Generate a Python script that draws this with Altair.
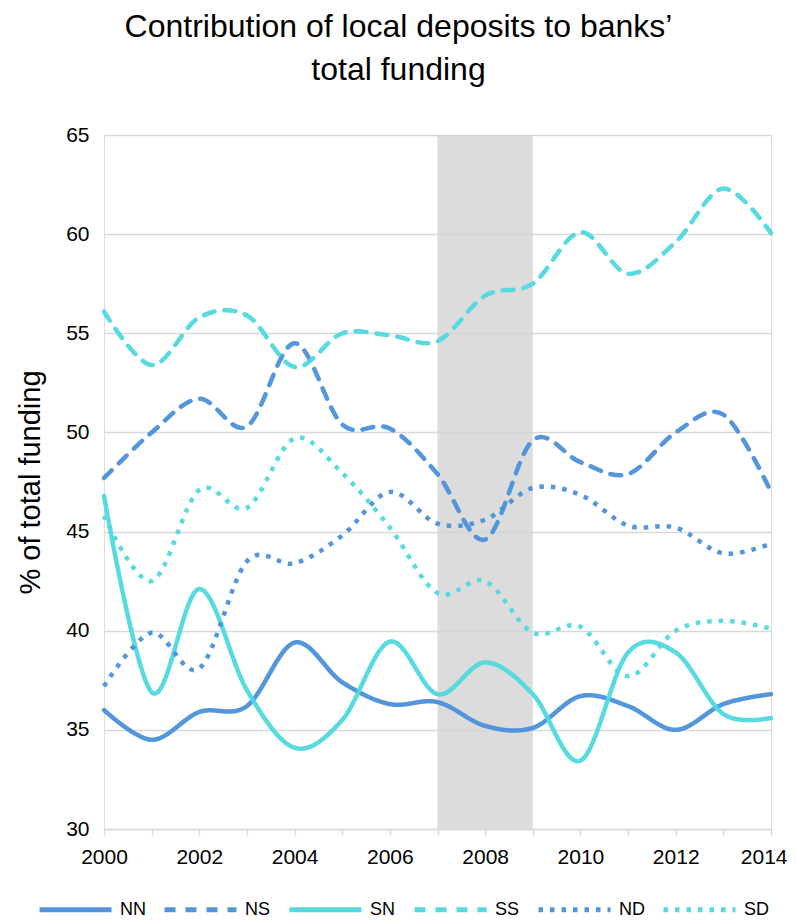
import altair as alt
import pandas as pd

years = list(range(2000, 2015))
NN = [36.0, 34.5, 35.9, 36.2, 39.4, 37.4, 36.3, 36.4, 35.2, 35.1, 36.7, 36.2, 35.0, 36.3, 36.8]
NS = [47.7, 50.0, 51.7, 50.3, 54.5, 50.4, 50.2, 47.9, 44.6, 49.6, 48.5, 47.9, 50.0, 50.9, 47.0]
SN = [46.8, 36.9, 42.1, 37.0, 34.1, 35.5, 39.45, 36.8, 38.4, 36.8, 33.45, 38.9, 38.9, 35.8, 35.6]
SS = [56.1, 53.4, 55.8, 55.9, 53.3, 55.0, 54.9, 54.6, 56.9, 57.5, 60.1, 58.0, 59.6, 62.3, 60.05]
ND = [37.2, 39.9, 38.1, 43.5, 43.4, 44.8, 47.0, 45.4, 45.6, 47.2, 46.85, 45.3, 45.2, 43.9, 44.4]
SD = [45.8, 42.5, 47.1, 46.2, 49.7, 47.95, 45.2, 41.9, 42.5, 39.9, 40.2, 37.7, 40.0, 40.5, 40.1]

series_names = ["NN", "NS", "SN", "SS", "ND", "SD"]
series_values = [NN, NS, SN, SS, ND, SD]
series_colors = ["#4a90d9", "#4a90d9", "#4fd8df", "#4fd8df", "#4a90d9", "#4fd8df"]
series_dash = [[1, 0], [11, 10], [1, 0], [11, 10], [4.5, 7], [4.5, 7]]
dotted = ["ND", "SD"]

crisis_start = [2007]
crisis_end = [2009]
y_ticks = [30, 35, 40, 45, 50, 55, 60, 65]

rows = []
for name, vals in zip(series_names, series_values):
    for yr, v in zip(years, vals):
        rows.append({"year": yr, "value": v, "series": name})
df = pd.DataFrame(rows)
band = pd.DataFrame({"start": crisis_start, "end": crisis_end})

FONT = "Liberation Sans, Arial, sans-serif"

x_scale = alt.Scale(domain=[2000, 2014], nice=False, zero=False)
y_scale = alt.Scale(domain=[30, 65], nice=False, zero=False)

color = alt.Color("series:N", scale=alt.Scale(domain=series_names, range=series_colors),
                  sort=series_names,
                  legend=alt.Legend(title=None, orient="none", direction="horizontal",
                                    legendX=-67, legendY=736, symbolType="stroke",
                                    symbolSize=5184, symbolStrokeWidth=5,
                                    labelFontSize=18, labelFont=FONT, labelColor="#000000",
                                    labelOffset=6, columnPadding=8))
dash = alt.StrokeDash("series:N", scale=alt.Scale(domain=series_names, range=series_dash),
                      sort=series_names, legend=alt.Legend(title=None))

rect = alt.Chart(band).mark_rect(color="#d3d3d3", opacity=0.8).encode(
    x=alt.X("start:Q", scale=x_scale),
    x2="end:Q",
)

last_year = years[-1]
base = alt.Chart(df).encode(
    x=alt.X("year:Q", scale=x_scale,
            axis=alt.Axis(title=None, values=years, format="d",
                          labelExpr="datum.value % 2 == 0 ? datum.label : ''",
                          labelFlush=False, labelOverlap=False,
                          labelAlign={"condition": {"test": f"datum.value == {last_year}", "value": "right"},
                                      "value": "center"},
                          labelOffset={"condition": {"test": f"datum.value == {last_year}", "value": 16},
                                       "value": 0},
                          grid=False, domainColor="#d9d9d9", domainWidth=1.5,
                          tickColor="#d9d9d9", tickSize=6, tickWidth=1.5,
                          labelFontSize=21, labelFont=FONT, labelColor="#000000",
                          labelPadding=11)),
    y=alt.Y("value:Q", scale=y_scale,
            axis=alt.Axis(title="% of total funding", values=y_ticks,
                          domain=False, ticks=False, gridColor="#d9d9d9", gridWidth=1.3,
                          labelFontSize=21, labelFont=FONT, labelColor="#000000",
                          labelPadding=15, titleFontSize=29, titleFont=FONT,
                          titleFontWeight="normal", titleColor="#000000", titlePadding=20)),
    color=color,
    strokeDash=dash,
)

lines_main = base.transform_filter(
    alt.FieldOneOfPredicate(field="series", oneOf=["NN", "NS", "SN", "SS"])
).mark_line(interpolate="cardinal", strokeWidth=4.5, strokeCap="round", opacity=0.95)

lines_dot = base.transform_filter(
    alt.FieldOneOfPredicate(field="series", oneOf=dotted)
).mark_line(interpolate="cardinal", strokeWidth=4.5, strokeCap="butt", opacity=0.95)

chart = alt.layer(rect, lines_main, lines_dot).properties(
    width=667, height=694,
    title=alt.TitleParams(text=["Contribution of local deposits to banks’", "total funding"],
                          fontSize=32, font=FONT, fontWeight="normal", color="#000000",
                          anchor="middle", dx=-39, offset=37, lineHeight=43),
    autosize=alt.AutoSizeParams(type="none"),
    padding={"left": 96, "top": 127, "right": 17, "bottom": 91},
).configure_view(stroke=None).configure(background="white")

chart.save("out.html", embed_options={"renderer": "svg", "actions": False})
